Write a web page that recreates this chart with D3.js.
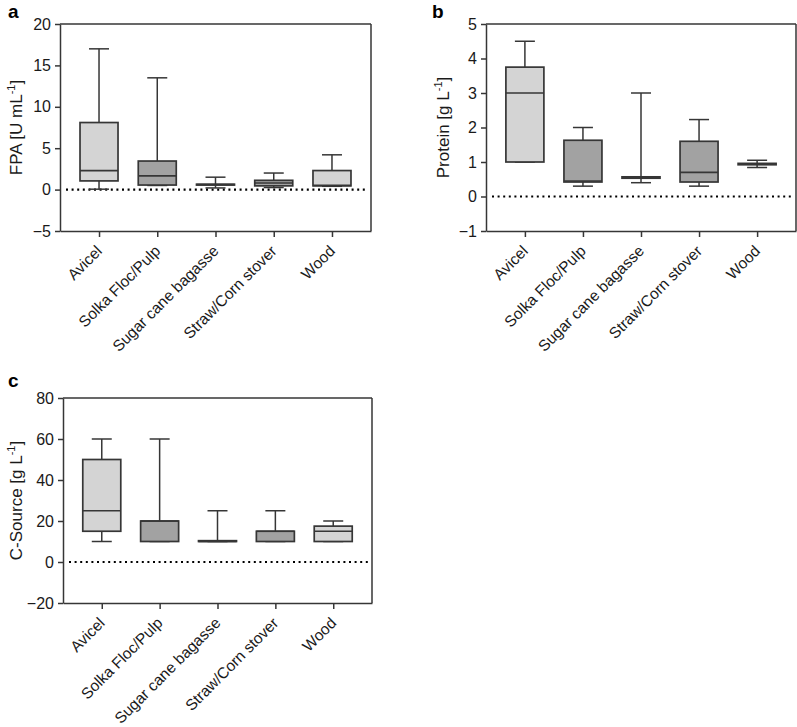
<!DOCTYPE html>
<html>
<head>
<meta charset="utf-8">
<script src="https://cdn.jsdelivr.net/npm/d3@7"></script>
<style>
  html, body { margin: 0; padding: 0; background: #fff; }
  svg { display: block; font-family: "Liberation Sans", Arial, sans-serif; }
</style>
</head>
<body>
<svg id="chart" width="797" height="727"></svg>
<script>
// ---------- data ----------
const categories = ["Avicel", "Solka Floc/Pulp", "Sugar cane bagasse", "Straw/Corn stover", "Wood"];

// Panel a: FPA [U mL-1]
const fpaMin    = [0.05, 0.5, 0.2, 0.25, 0.4];
const fpaQ1     = [1.05, 0.55, 0.55, 0.45, 0.45];
const fpaMedian = [2.3, 1.65, 0.6, 0.8, 0.5];
const fpaQ3     = [8.1, 3.45, 0.65, 1.12, 2.3];
const fpaMax    = [17, 13.5, 1.5, 2.0, 4.2];
const fpaTicks  = [-5, 0, 5, 10, 15, 20];

// Panel b: Protein [g L-1]
const proteinMin    = [1.0, 0.3, 0.4, 0.3, 0.84];
const proteinQ1     = [1.0, 0.42, 0.53, 0.42, 0.92];
const proteinMedian = [3.0, 0.45, 0.55, 0.7, 0.94];
const proteinQ3     = [3.75, 1.63, 0.57, 1.6, 0.96];
const proteinMax    = [4.5, 2.0, 3.0, 2.23, 1.05];
const proteinTicks  = [-1, 0, 1, 2, 3, 4, 5];

// Panel c: C-Source [g L-1]
const csourceMin    = [10, 10, 10, 10, 10];
const csourceQ1     = [15, 10, 10, 10, 10];
const csourceMedian = [25, 20, 10, 15, 15];
const csourceQ3     = [50, 20, 10.4, 15, 17.5];
const csourceMax    = [60, 60, 25, 25, 20];
const csourceTicks  = [-20, 0, 20, 40, 60, 80];

const boxFills = ["#d4d4d4", "#a2a2a2", "#d4d4d4", "#a2a2a2", "#d4d4d4"];

// ---------- drawing ----------
const svg = d3.select("#chart");
const lineColor = "#363636";

function drawPanel(p) {
  const g = svg.append("g");
  const x = d3.scalePoint().domain(categories).range([p.x0, p.x1]).padding(0.67);
  const y = d3.scaleLinear().domain(p.domain).range([p.y1, p.y0]);

  // y axis
  const ya = g.append("g")
    .attr("transform", `translate(${p.x0},0)`)
    .call(d3.axisLeft(y).tickValues(p.ticks).tickSize(5).tickSizeOuter(0).tickPadding(4).tickFormat(d3.format("d")));
  ya.select(".domain").attr("stroke", lineColor).attr("stroke-width", 1.5);
  ya.selectAll(".tick line").attr("stroke", lineColor).attr("stroke-width", 1.5);
  ya.selectAll(".tick text").attr("font-size", 16).attr("fill", "#1a1a1a")
    .attr("font-family", "Liberation Sans, Arial, sans-serif");

  // x axis
  const xa = g.append("g")
    .attr("transform", `translate(0,${p.y1})`)
    .call(d3.axisBottom(x).tickSize(6).tickSizeOuter(0).tickFormat(""));
  xa.select(".domain").attr("stroke", lineColor).attr("stroke-width", 1.5);
  xa.selectAll(".tick line").attr("stroke", lineColor).attr("stroke-width", 1.5);

  // frame (top & right)
  g.append("line").attr("x1", p.x0).attr("x2", p.x1).attr("y1", p.y0).attr("y2", p.y0)
    .attr("stroke", lineColor).attr("stroke-width", 1.5);
  g.append("line").attr("x1", p.x1).attr("x2", p.x1).attr("y1", p.y0).attr("y2", p.y1)
    .attr("stroke", lineColor).attr("stroke-width", 1.5);

  // x labels
  g.selectAll(".xlab").data(categories).enter().append("text")
    .attr("transform", d => `translate(${x(d) + 4},${p.y1 + 21}) rotate(-45)`)
    .attr("text-anchor", "end")
    .attr("font-size", 15.5)
    .attr("fill", "#1a1a1a")
    .text(d => d);

  // zero dotted line
  g.append("line")
    .attr("x1", p.x0 + 6).attr("x2", p.x1 - 4)
    .attr("y1", y(0)).attr("y2", y(0))
    .attr("stroke", "#000").attr("stroke-width", 2.2)
    .attr("stroke-dasharray", "2,3.6");

  const boxW = 38, capW = 20;
  const data = categories.map((c, i) => ({
    c, min: p.min[i], q1: p.q1[i], med: p.med[i], q3: p.q3[i], max: p.max[i], fill: boxFills[i]
  }));
  const b = g.selectAll(".box").data(data).enter().append("g");
  // whiskers
  b.append("line").attr("x1", d => x(d.c)).attr("x2", d => x(d.c))
    .attr("y1", d => y(d.max)).attr("y2", d => y(d.q3))
    .attr("stroke", lineColor).attr("stroke-width", 1.5);
  b.append("line").attr("x1", d => x(d.c)).attr("x2", d => x(d.c))
    .attr("y1", d => y(d.q1)).attr("y2", d => y(d.min))
    .attr("stroke", lineColor).attr("stroke-width", 1.5);
  b.append("line").attr("x1", d => x(d.c) - capW / 2).attr("x2", d => x(d.c) + capW / 2)
    .attr("y1", d => y(d.max)).attr("y2", d => y(d.max))
    .attr("stroke", lineColor).attr("stroke-width", 1.5);
  b.append("line").attr("x1", d => x(d.c) - capW / 2).attr("x2", d => x(d.c) + capW / 2)
    .attr("y1", d => y(d.min)).attr("y2", d => y(d.min))
    .attr("stroke", lineColor).attr("stroke-width", 1.5);
  // box
  b.append("rect")
    .attr("x", d => x(d.c) - boxW / 2).attr("width", boxW)
    .attr("y", d => y(d.q3)).attr("height", d => Math.max(0, y(d.q1) - y(d.q3)))
    .attr("fill", d => d.fill).attr("stroke", lineColor).attr("stroke-width", 1.7);
  // median
  b.append("line").attr("x1", d => x(d.c) - boxW / 2).attr("x2", d => x(d.c) + boxW / 2)
    .attr("y1", d => y(d.med)).attr("y2", d => y(d.med))
    .attr("stroke", lineColor).attr("stroke-width", 1.7);

  // y title
  const t = g.append("text")
    .attr("transform", `translate(${p.titleX},${(p.y0 + p.y1) / 2}) rotate(-90)`)
    .attr("text-anchor", "middle")
    .attr("font-size", 17)
    .attr("fill", "#1a1a1a");
  t.append("tspan").text(p.title);
  t.append("tspan").attr("font-size", 11).attr("dy", -7).text("-1");
  t.append("tspan").attr("dy", 7).text("]");

  // panel letter
  g.append("text").attr("x", p.letterX).attr("y", p.letterY)
    .attr("font-size", 19).attr("font-weight", "bold").attr("fill", "#000")
    .text(p.letter);
}

drawPanel({
  x0: 60, x1: 371, y0: 24, y1: 231, domain: [-5, 20], ticks: fpaTicks,
  min: fpaMin, q1: fpaQ1, med: fpaMedian, q3: fpaQ3, max: fpaMax,
  title: "FPA [U mL", titleX: 22, letter: "a", letterX: 8, letterY: 18
});
drawPanel({
  x0: 486, x1: 796, y0: 24, y1: 231, domain: [-1, 5], ticks: proteinTicks,
  min: proteinMin, q1: proteinQ1, med: proteinMedian, q3: proteinQ3, max: proteinMax,
  title: "Protein [g L", titleX: 449, letter: "b", letterX: 432, letterY: 18
});
drawPanel({
  x0: 63, x1: 372, y0: 398, y1: 603, domain: [-20, 80], ticks: csourceTicks,
  min: csourceMin, q1: csourceQ1, med: csourceMedian, q3: csourceQ3, max: csourceMax,
  title: "C-Source [g L", titleX: 22, letter: "c", letterX: 8, letterY: 387
});
</script>
</body>
</html>
